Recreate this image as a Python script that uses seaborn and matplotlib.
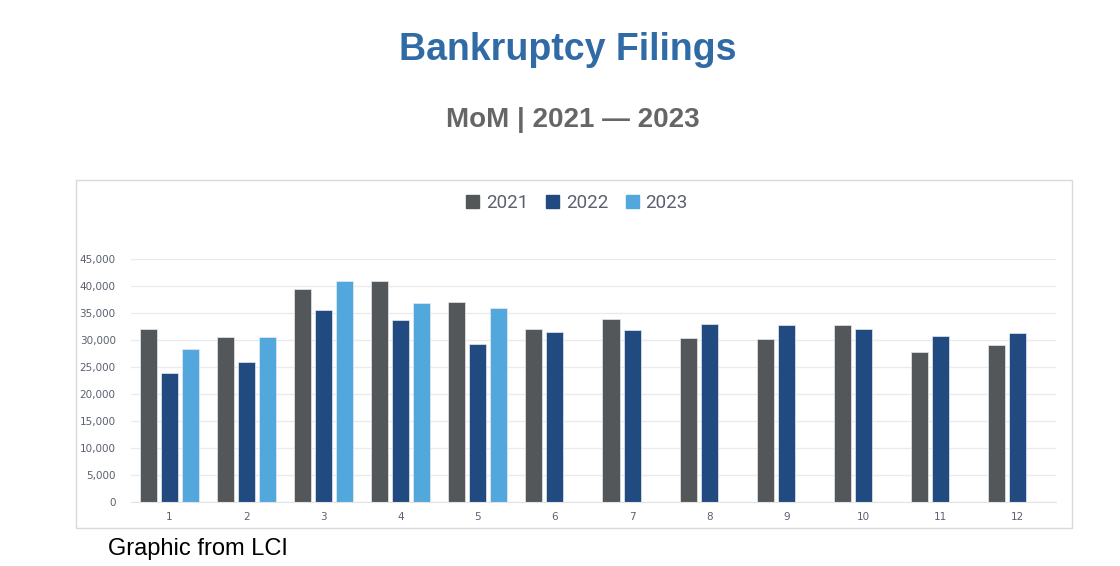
import matplotlib.pyplot as plt
import matplotlib.patches as mpatches
import seaborn as sns
import pandas as pd

months = [1, 2, 3, 4, 5, 6, 7, 8, 9, 10, 11, 12]
filings_2021 = [32000, 30600, 39400, 41000, 37000, 32100, 33900, 30300, 30200, 32700, 27800, 29100]
filings_2022 = [23900, 26000, 35600, 33700, 29200, 31500, 31800, 32900, 32800, 32000, 30800, 31300]
filings_2023 = [28300, 30600, 41000, 36800, 36000]
years = ['2021', '2022', '2023']
colors = ['#53575A', '#214A80', '#52A8DC']

rows = []
for yr, vals in zip(years, [filings_2021, filings_2022, filings_2023]):
    for m, v in zip(months, vals):
        rows.append({'month': m, 'year': yr, 'filings': v})
df = pd.DataFrame(rows)

sns.set_style('white')
fig = plt.figure(figsize=(11.2, 5.66), dpi=100)

# light frame around the chart
fig.patches.append(mpatches.Rectangle((76/1120, 1-528/566), 996/1120, 348/566,
                                      transform=fig.transFigure, fill=False,
                                      edgecolor='#D9D9D9', linewidth=1))

ax = fig.add_axes([131/1120, 1-502/566, 925/1120, 243/566])
sns.barplot(data=df, x='month', y='filings', hue='year', hue_order=years,
            palette=colors, saturation=1, width=0.82, gap=0.19, ax=ax, legend=False,
            edgecolor='#E6E9EE', linewidth=0.5)
ax.set_ylim(0, 45000)
ax.set_xlim(-0.5, 11.5)
ax.set_yticks(range(0, 45001, 5000))
ax.set_yticklabels([f'{v:,}' for v in range(0, 45001, 5000)])
ax.yaxis.grid(True, color='#EBEBEB', linewidth=1)
ax.set_axisbelow(True)
for s in ['top', 'right', 'left']:
    ax.spines[s].set_visible(False)
ax.spines['bottom'].set_color('#E3E3E3')
ax.tick_params(axis='both', length=0, labelsize=7.5, colors='#5A6070')
ax.tick_params(axis='y', pad=11)
ax.tick_params(axis='x', pad=7)
ax.set_xlabel('')
ax.set_ylabel('')

handles = [mpatches.Patch(color=c, label=y) for c, y in zip(colors, years)]
fig.legend(handles=handles, loc='center', bbox_to_anchor=(577/1120, 1-203/566),
           ncol=3, frameon=False, handlelength=0.7, handleheight=0.7,
           handletextpad=0.35, columnspacing=0.95, labelcolor='#5A6070',
           prop={'family': 'Roboto', 'size': 13.5})

fig.text(568/1120, 1-50/566, 'Bankruptcy Filings', ha='center', va='center',
         fontsize=27, fontweight='bold', color='#316BA6', family='Liberation Sans')
fig.text(573/1120, 1-120/566, 'MoM | 2021 \u2014 2023', ha='center', va='center',
         fontsize=20, fontweight='bold', color='#666666', family='Liberation Sans')
fig.text(108/1120, 1-549/566, 'Graphic from LCI', ha='left', va='center',
         fontsize=17, color='black', family='Liberation Sans')

fig.savefig('out.png', dpi=100, facecolor='white')
